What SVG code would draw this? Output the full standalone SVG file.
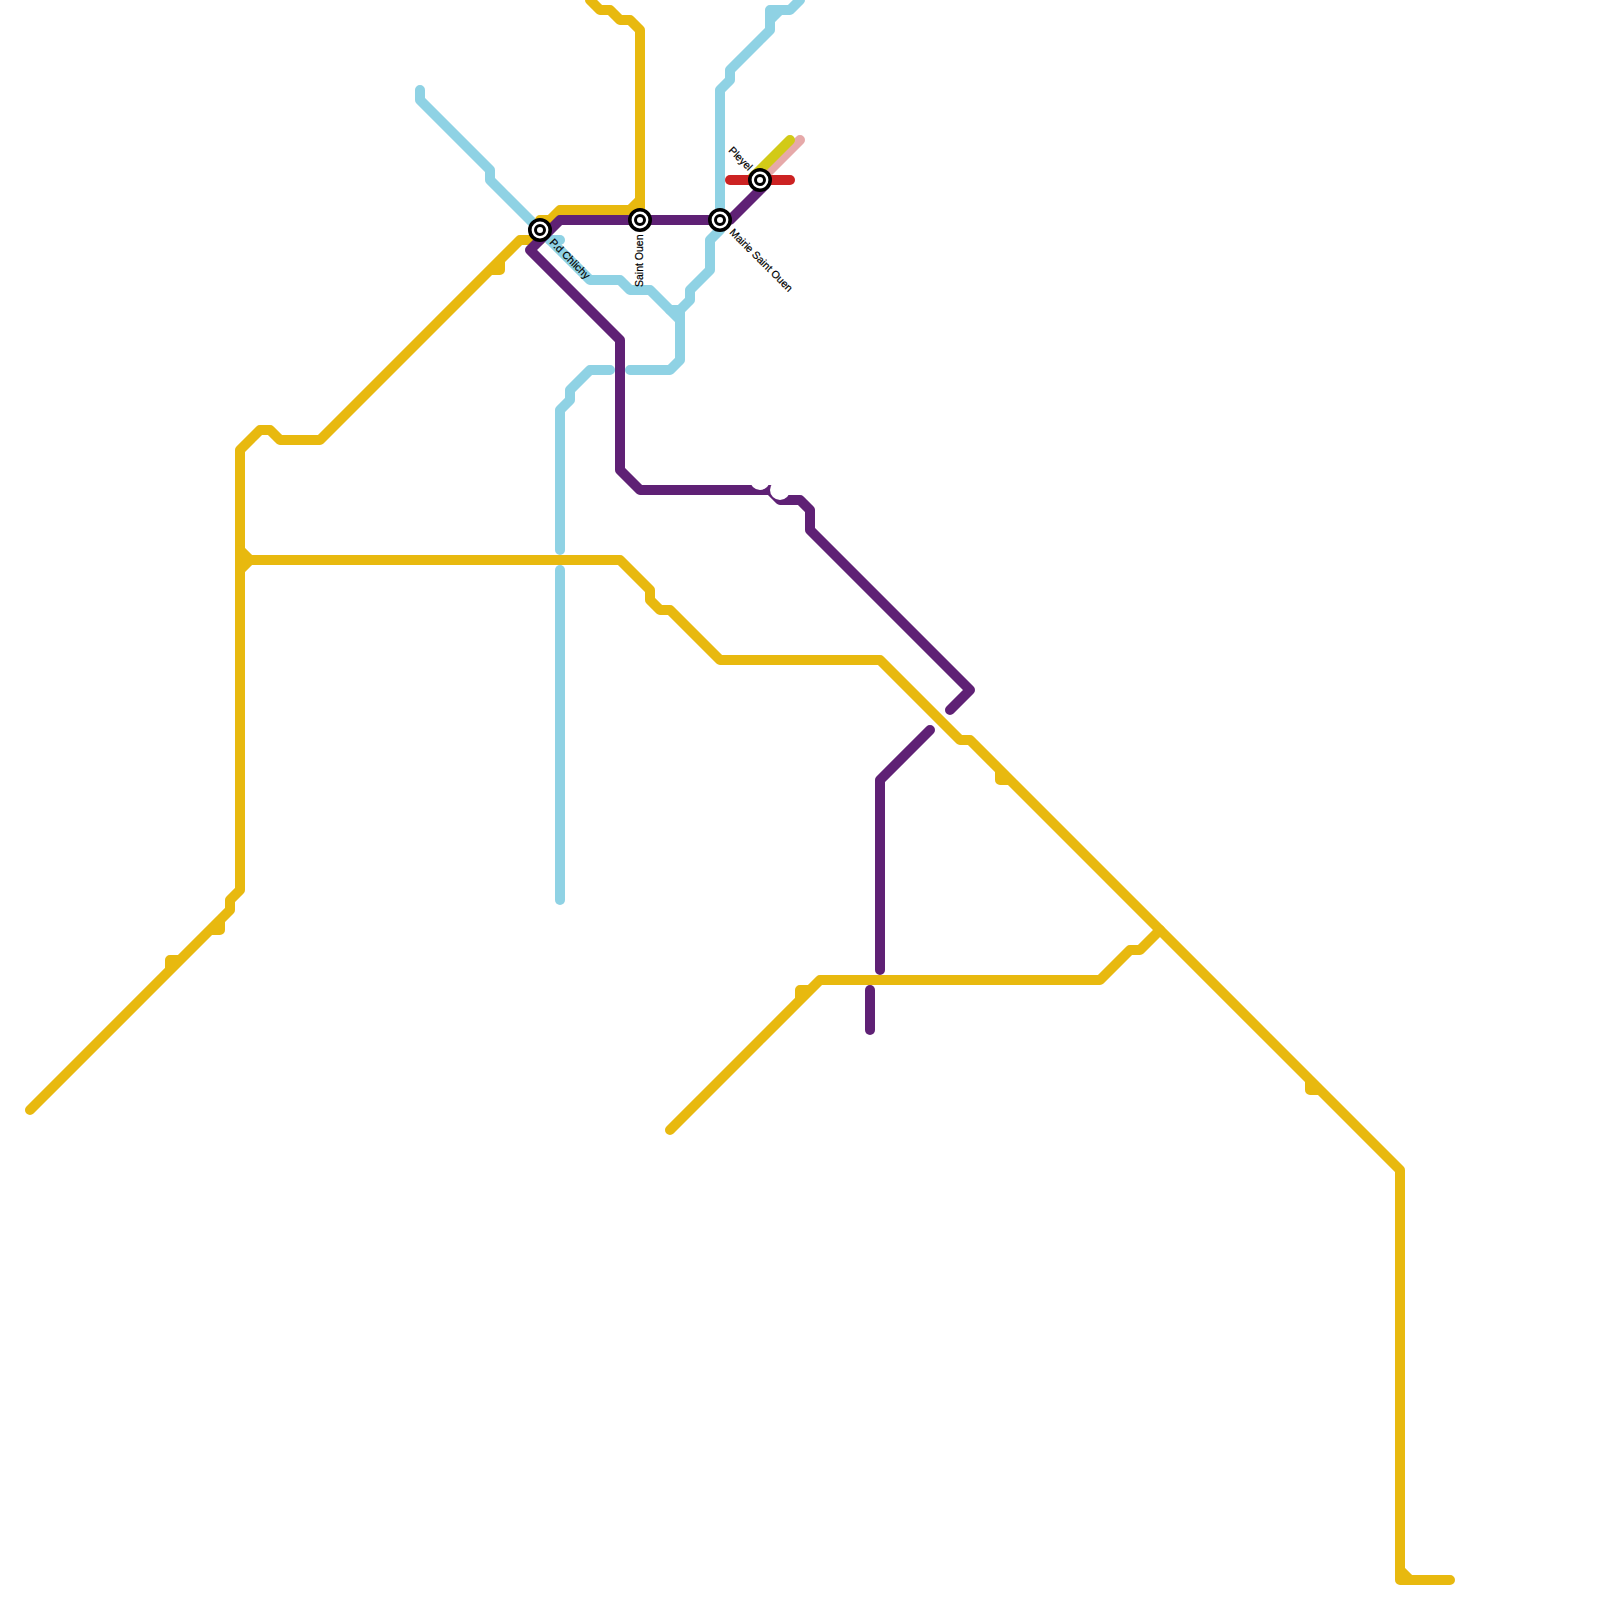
<svg xmlns="http://www.w3.org/2000/svg" width="1600" height="1600" viewBox="0 0 1600 1600">
<style>
.l{fill:none;stroke-width:10;stroke-linecap:round;stroke-linejoin:round}
.y{stroke:#E8B90F}.b{stroke:#8FD2E4}.p{stroke:#5F2175}.r{stroke:#CC2222}.o{stroke:#D2CA17}.k{stroke:#E6A9A9}
.s1{fill:#fff;stroke:#000;stroke-width:3.6}.s2{fill:#fff;stroke:#000;stroke-width:3}
.t{font-family:"Liberation Sans",Arial,sans-serif;font-size:10.5px;fill:#000;stroke:#000;stroke-width:.2}
</style>
<rect width="1600" height="1600" fill="#fff"/>
<g id="connectors">
<path class="l k" d="M760 180L800 140"/>
<path class="l o" d="M750 180L790 140"/>
<path class="l r" d="M730 180H790"/>
<path class="l b" d="M420 90V100L490 170V180L540 230L590 280H620L630 290H650L680 320V360L670 370H630"/>
<path class="l b" d="M550 240H560"/>
<path class="l b" d="M680 320V310M670 310H680L690 300V290L710 270V240L720 230V90L730 80V70L770 30V10H790L800 0M770 20L780 10"/>
<path class="l b" d="M560 550V410L570 400V390L590 370H610"/>
<path class="l b" d="M560 570V900"/>
<path class="l y" d="M30 1110L230 910V900L240 890V450L260 430H270L280 440H320L520 240H540M170 970V960H180M210 930H220V920M490 270H500V260"/>
<path class="l y" d="M540 220H550L560 210H630L640 200V30L630 20H620L610 10H600L590 0M640 200V215"/>
<path class="l y" d="M240 550L250 560L240 570M250 560H620L650 590V600L660 610H670L720 660H880L960 740H970L1400 1170V1580H1450M1400 1570L1410 1580M1000 770V780H1010M1310 1080V1090H1320"/>
<path class="l y" d="M670 1130L820 980H1100L1130 950H1140L1160 930M800 1000V990H810"/>
<path class="l p" d="M765 185L730 220H560L530 250L620 340V470L640 490H770L780 500H800L810 510V530L970 690L950 710"/>
<path class="l p" d="M930 730L880 780V970"/>
<path class="l p" d="M870 990V1030"/>
<circle cx="760" cy="480" r="10" fill="#fff"/>
<circle cx="780" cy="490" r="10" fill="#fff"/>
</g>
<g id="station-pd-clichy">
<circle class="s1" cx="540" cy="230" r="10.2"/><circle class="s2" cx="540" cy="230" r="4.5"/>
<text class="t" transform="translate(549 243) rotate(45)">P.d Chlichy</text>
</g>
<g id="station-saint-ouen">
<circle class="s1" cx="640" cy="220" r="10.2"/><circle class="s2" cx="640" cy="220" r="4.5"/>
<text class="t" transform="translate(643 287) rotate(-90)">Saint Ouen</text>
</g>
<g id="station-mairie-saint-ouen">
<circle class="s1" cx="720" cy="220" r="10.2"/><circle class="s2" cx="720" cy="220" r="4.5"/>
<text class="t" transform="translate(729 233) rotate(45)">Mairie Saint Ouen</text>
</g>
<g id="station-pleyel">
<circle class="s1" cx="760" cy="180" r="10.2"/><circle class="s2" cx="760" cy="180" r="4.5"/>
<text class="t" transform="translate(728 151) rotate(45)">Pleyel</text>
</g>
</svg>
